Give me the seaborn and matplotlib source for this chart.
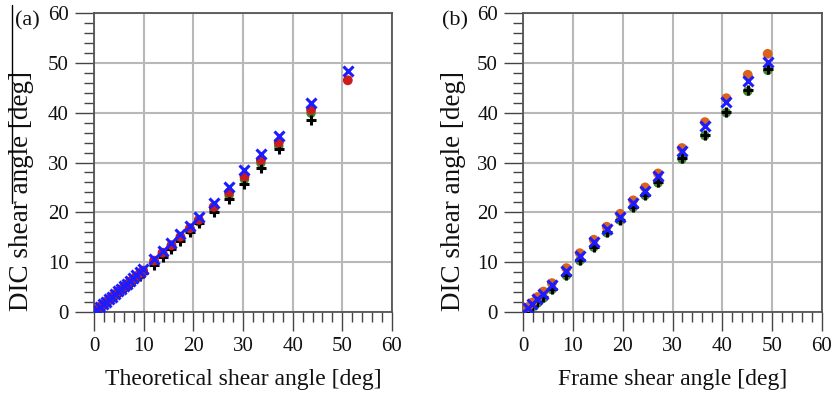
import numpy as np
import pandas as pd
import matplotlib
matplotlib.use("Agg")
import matplotlib.pyplot as plt
from matplotlib.lines import Line2D
from matplotlib.ticker import MultipleLocator
import seaborn as sns

# Panel (a): DIC shear angle against the theoretical shear angle
theo_x = [0.0, 0.6, 1.2, 1.8, 2.4, 3.0, 3.6, 4.2, 4.8, 5.4, 6.0, 6.6, 7.2, 7.8, 8.5, 9.2, 9.9,
          12.1, 13.8, 15.6, 17.4, 19.3, 21.1, 24.1, 27.2, 30.3, 33.6, 37.2, 43.7, 51.1]
a_blue = [0.0, 0.5, 1.0, 1.6, 2.1, 2.6, 3.1, 3.7, 4.2, 4.7, 5.2, 5.7, 6.3, 6.8, 7.4, 8.0, 8.6,
          10.7, 12.3, 13.9, 15.6, 17.3, 19.0, 21.9, 25.0, 28.4, 31.8, 35.4, 41.9, 48.3]
a_red = [0.0, 0.5, 1.0, 1.5, 2.0, 2.5, 3.0, 3.5, 4.0, 4.5, 5.0, 5.5, 6.0, 6.5, 7.1, 7.7, 8.3,
         10.3, 11.9, 13.4, 15.1, 16.8, 18.5, 21.1, 24.0, 27.2, 30.5, 34.0, 40.6, 46.5]
a_green = [0.0, 0.4, 0.9, 1.4, 1.9, 2.4, 2.9, 3.4, 3.9, 4.4, 4.8, 5.3, 5.8, 6.3, 6.9, 7.4, 8.0,
           10.0, 11.6, 13.0, 14.7, 16.4, 18.1, 20.6, 23.4, 26.6, 29.9, 33.3, 39.9, np.nan]
a_black = [0.0, 0.4, 0.9, 1.4, 1.9, 2.4, 2.8, 3.3, 3.8, 4.3, 4.8, 5.2, 5.7, 6.2, 6.8, 7.3, 7.9,
           9.4, 11.1, 12.6, 14.3, 16.0, 17.8, 20.0, 22.7, 25.6, 28.9, 32.7, 38.6, np.nan]

# Panel (b): DIC shear angle against the frame shear angle
frame_x = [0.0, 1.0, 1.9, 2.9, 4.1, 5.8, 8.7, 11.4, 14.2, 16.8, 19.5, 22.1, 24.5, 27.1,
           31.9, 36.5, 40.8, 45.1, 49.1]
b_blue = [0.0, 0.8, 1.6, 2.7, 3.7, 5.4, 8.3, 11.3, 14.0, 16.7, 19.1, 21.9, 24.2, 27.2,
          32.4, 37.4, 42.2, 46.4, 50.2]
b_orange = [0.0, 1.0, 1.9, 3.0, 4.1, 5.8, 8.8, 11.8, 14.5, 17.1, 19.7, 22.4, 25.0, 27.8,
            32.9, 38.1, 42.9, 47.6, 51.8]
b_black = [0.0, 0.4, 1.2, 2.0, 3.0, 4.7, 7.4, 10.4, 13.1, 16.0, 18.5, 21.1, 23.5, 26.0,
           30.9, 35.6, 40.2, 44.6, 48.8]
b_green = [0.0, 0.3, 1.0, 1.8, 2.8, 4.5, 7.3, 10.3, 13.0, 15.9, 18.4, 21.0, 23.4, 25.9,
           30.7, 35.4, 40.0, 44.3, 48.5]

ticks = [0, 10, 20, 30, 40, 50, 60]
tick_labels = ["0", "10", "20", "30", "40", "50", "60"]
ylabel = "DIC shear angle [deg]"
xlabels = ["Theoretical shear angle [deg]", "Frame shear angle [deg]"]
panel_tags = ["(a)", "(b)"]

sns.set_theme(style="white")
plt.rcParams["font.family"] = ["Liberation Serif", "DejaVu Serif"]

W, H = 836, 399
fig = plt.figure(figsize=(W / 100, H / 100), dpi=100)
fig.patch.set_facecolor("white")


def px_axes(x0, x1, ytop, ybot):
    return fig.add_axes([x0 / W, 1 - ybot / H, (x1 - x0) / W, (ybot - ytop) / H])


ax_a = px_axes(94, 392, 13, 312)
ax_b = px_axes(523, 822, 13, 312)

GREEN = "#3a8a2a"
BLUE = "#1c1cff"


def draw(ax, x, green, black, circ, circ_color, blue):
    df = pd.DataFrame({"x": x, "green": green, "black": black, "circ": circ, "blue": blue})
    sns.scatterplot(data=df, x="x", y="green", ax=ax, marker="o", s=46, color=GREEN,
                    edgecolor="none", zorder=3)
    sns.scatterplot(data=df, x="x", y="black", ax=ax, marker="+", s=60, color="black",
                    linewidth=2.2, zorder=4)
    sns.scatterplot(data=df, x="x", y="circ", ax=ax, marker="o", s=50, color=circ_color,
                    edgecolor="none", zorder=5)
    sns.scatterplot(data=df, x="x", y="blue", ax=ax, marker="x", s=52, color=BLUE,
                    linewidth=2.2, zorder=6)


draw(ax_a, theo_x, a_green, a_black, a_red, "#cc1c1c", a_blue)
draw(ax_b, frame_x, b_green, b_black, b_orange, "#d8621e", b_blue)

for ax, xl in zip([ax_a, ax_b], xlabels):
    ax.set_xlim(0, 60)
    ax.set_ylim(0, 60)
    ax.set_xticks(ticks)
    ax.set_yticks(ticks)
    ax.set_xticklabels(tick_labels, fontsize=15)
    ax.set_yticklabels(tick_labels, fontsize=15)
    ax.xaxis.set_minor_locator(MultipleLocator(2))
    ax.yaxis.set_minor_locator(MultipleLocator(2))
    ax.tick_params(which="major", direction="out", length=14, width=1.0, color="#444444",
                   pad=4, labelcolor="#111111", bottom=True, left=True)
    ax.tick_params(which="minor", direction="out", length=7, width=1.0, color="#444444",
                   bottom=True, left=True)
    ax.grid(True, which="major", color="#b8b8b8", linewidth=1.5)
    ax.set_axisbelow(True)
    for sp in ax.spines.values():
        sp.set_visible(True)
        sp.set_color("#555555")
        sp.set_linewidth(1.3)
    ax.set_xlabel(xl, fontsize=17, color="#111111", va="center")
    ax.xaxis.set_label_coords(0.5, -0.227)
    ax.set_ylabel(ylabel, fontsize=19.5, color="#111111", va="center")

ax_a.yaxis.set_label_coords((22 - 94) / 298, (312 - 191) / 299)
ax_b.yaxis.set_label_coords((454 - 523) / 299, (312 - 191) / 299)

fig.text(27 / W, 1 - 21 / H, panel_tags[0], fontsize=16, ha="center", va="center", color="#111111")
fig.text(455 / W, 1 - 21 / H, panel_tags[1], fontsize=16, ha="center", va="center", color="#111111")

# thin rule beside the left axis title
fig.add_artist(Line2D([12 / W, 12 / W], [1 - 5 / H, 1 - 203 / H], color="black", linewidth=1.0))

fig.savefig("out.png", dpi=100, facecolor="white")
